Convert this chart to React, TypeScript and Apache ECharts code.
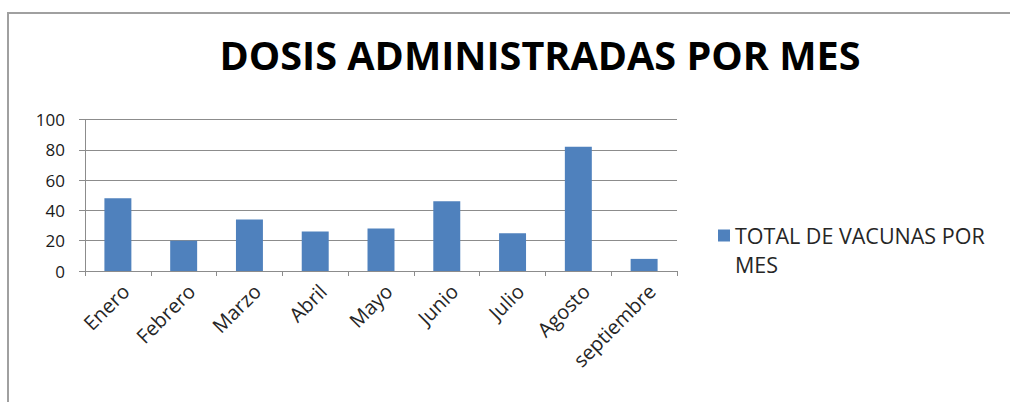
import React, { useEffect, useRef } from "react";
import * as echarts from "echarts";

// Monthly doses administered
const months = ["Enero", "Febrero", "Marzo", "Abril", "Mayo", "Junio", "Julio", "Agosto", "septiembre"];
const doses = [48, 20, 34, 26, 28, 46, 25, 82, 8];
const seriesName = "TOTAL DE VACUNAS POR MES";
const legendLines = ["TOTAL DE VACUNAS POR", "MES"];
const chartTitle = "DOSIS ADMINISTRADAS POR MES";
const yMin = 0;
const yMax = 100;
const yStep = 20;

const FONT = "'Open Sans', 'Noto Sans', sans-serif";

export default function App() {
  const ref = useRef<HTMLDivElement>(null);

  useEffect(() => {
    document.body.style.margin = "0";
    if (!ref.current) return;
    const chart = echarts.init(ref.current, undefined, { renderer: "svg" });
    chart.setOption({
      animation: false,
      backgroundColor: "#ffffff",
      title: {
        text: chartTitle,
        left: 535,
        top: 30,
        textAlign: "center",
        textStyle: { fontFamily: FONT, fontSize: 39.6, fontWeight: "bold", color: "#000000" },
      },
      graphic: [
        {
          type: "polyline",
          shape: { points: [[8, 402], [8, 13], [1012, 13]] },
          style: { stroke: "#a0a0a0", lineWidth: 2, fill: "none" },
          silent: true,
        },
      ],
      legend: {
        left: 713,
        top: 187,
        itemWidth: 12,
        itemHeight: 12,
        itemGap: 0,
        icon: "rect",
        // a blank line above keeps the swatch level with the first line of text
        formatter: () => " \n" + legendLines.join("\n"),
        textStyle: {
          fontFamily: FONT,
          fontSize: 21.5,
          color: "#262626",
          lineHeight: 29,
        },
        data: [seriesName],
      },
      grid: { left: 85, right: 333, top: 119.5, bottom: 131, containLabel: false },
      xAxis: {
        type: "category",
        data: months,
        axisLine: { show: true, lineStyle: { color: "#8c8c8c", width: 1 } },
        axisTick: { show: true, length: 5, lineStyle: { color: "#8c8c8c" } },
        axisLabel: {
          rotate: 45,
          margin: 9,
          // blank first line nudges each slanted label down and to the right
          formatter: (v: string) => " \n" + v,
          lineHeight: 22,
          fontFamily: FONT,
          fontSize: 20,
          color: "#262626",
          interval: 0,
        },
        splitLine: { show: false },
      },
      yAxis: {
        type: "value",
        min: yMin,
        max: yMax,
        interval: yStep,
        axisLine: { show: true, lineStyle: { color: "#8c8c8c", width: 1 } },
        axisTick: { show: true, length: 6, lineStyle: { color: "#8c8c8c" } },
        axisLabel: { margin: 20, fontFamily: FONT, fontSize: 17, color: "#1a1a1a" },
        splitLine: { show: true, lineStyle: { color: "#8c8c8c", width: 1 } },
      },
      series: [
        {
          name: seriesName,
          type: "bar",
          data: doses,
          barCategoryGap: "59%",
          itemStyle: { color: "#4f81bd" },
        },
      ],
    });
    return () => chart.dispose();
  }, []);

  return <div ref={ref} style={{ width: 1010, height: 402 }} />;
}
